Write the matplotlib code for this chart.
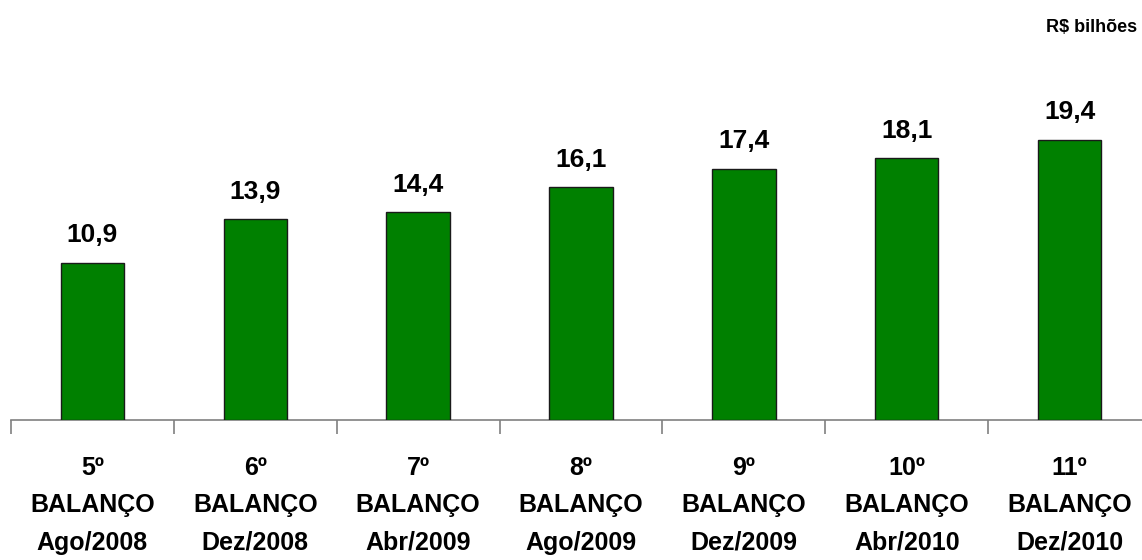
import matplotlib
matplotlib.use("Agg")
import matplotlib.pyplot as plt
import numpy as np

categories = ["5º\nBALANÇO\nAgo/2008", "6º\nBALANÇO\nDez/2008", "7º\nBALANÇO\nAbr/2009",
              "8º\nBALANÇO\nAgo/2009", "9º\nBALANÇO\nDez/2009", "10º\nBALANÇO\nAbr/2010",
              "11º\nBALANÇO\nDez/2010"]
values = [10.9, 13.9, 14.4, 16.1, 17.4, 18.1, 19.4]
value_labels = ["10,9", "13,9", "14,4", "16,1", "17,4", "18,1", "19,4"]
unit_label = "R$ bilhões"

plt.rcParams['font.family'] = ['Liberation Sans', 'DejaVu Sans']
plt.rcParams['font.weight'] = 'bold'

fig = plt.figure(figsize=(11.42, 5.60), dpi=100)
ax = fig.add_axes([11/1142, 140/560, 1140/1142, 420/560])

x = np.arange(len(values))
ax.bar(x, values, width=0.39, color='#008000', edgecolor='#1a1a1a', linewidth=1.0, zorder=3)
for xi, v, lab in zip(x, values, value_labels):
    ax.annotate(lab, (xi, v), xytext=(0, 11), textcoords='offset points',
                ha='center', va='bottom', fontsize=19, fontweight='bold')

ax.set_xlim(-0.5, len(values) - 0.5)
ax.set_ylim(0, 29.07)
for s in ['top', 'right', 'left']:
    ax.spines[s].set_visible(False)
ax.spines['bottom'].set_color('#808080')
ax.spines['bottom'].set_linewidth(1.2)
ax.set_yticks([])
ax.set_xticks(x)
ax.set_xticklabels(categories, fontsize=18, fontweight='bold', linespacing=1.7)
ax.tick_params(axis='x', which='major', length=0, pad=26)
ax.set_xticks(np.arange(len(values) + 1) - 0.5, minor=True)
ax.tick_params(axis='x', which='minor', length=10, color='#808080', width=1.2)

fig.text(1137/1142, 1 - 27/560, unit_label, ha='right', va='center', fontsize=13, fontweight='bold')

fig.savefig("out.png", dpi=100)
